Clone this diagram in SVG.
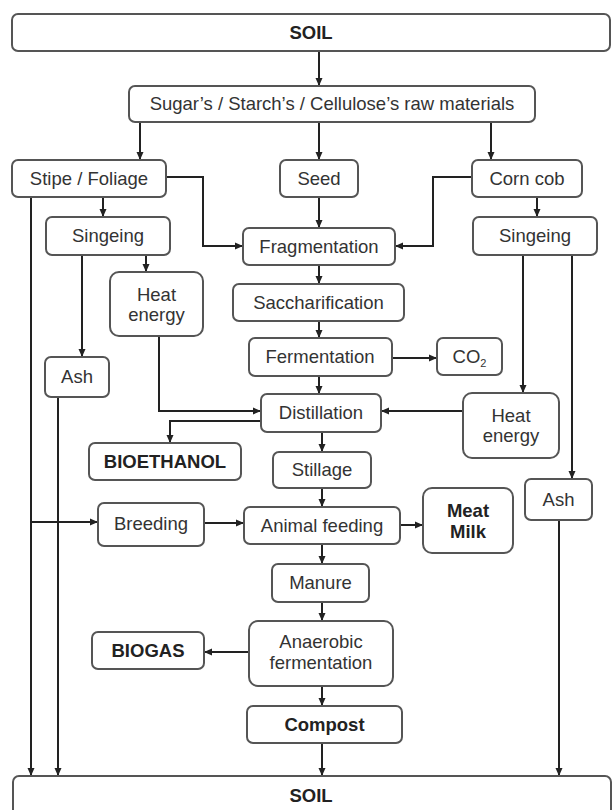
<svg xmlns="http://www.w3.org/2000/svg" width="612" height="810" viewBox="0 0 612 810">
<style>
.box{fill:#fff;stroke:#555;stroke-width:2}
.t{font-family:"Liberation Sans",Arial,sans-serif;font-size:18.5px;fill:#333;text-anchor:middle}
.b{font-weight:bold;fill:#222}
.c{fill:none;stroke:#222;stroke-width:2}
</style>
<defs>
<marker id="ah" markerUnits="userSpaceOnUse" markerWidth="9" markerHeight="8" refX="8" refY="4" orient="auto">
<path d="M0,0.5 L8,4 L0,7.5 z" fill="#222"/>
</marker>
</defs>
<rect width="612" height="810" fill="#fff"/>
<g id="connectors">
<path class="c" d="M319,51 V86" marker-end="url(#ah)"/>
<path class="c" d="M140,122 V160" marker-end="url(#ah)"/>
<path class="c" d="M319,122 V160" marker-end="url(#ah)"/>
<path class="c" d="M491,122 V160" marker-end="url(#ah)"/>
<path class="c" d="M166,177 H203 V246 H243" marker-end="url(#ah)"/>
<path class="c" d="M472,177 H433 V246 H395" marker-end="url(#ah)"/>
<path class="c" d="M319,197 V228" marker-end="url(#ah)"/>
<path class="c" d="M103,197 V217" marker-end="url(#ah)"/>
<path class="c" d="M537,197 V217" marker-end="url(#ah)"/>
<path class="c" d="M31,197 V776" marker-end="url(#ah)"/>
<path class="c" d="M82,255 V357" marker-end="url(#ah)"/>
<path class="c" d="M146,255 V272" marker-end="url(#ah)"/>
<path class="c" d="M159,336 V411 H261" marker-end="url(#ah)"/>
<path class="c" d="M58,397 V776" marker-end="url(#ah)"/>
<path class="c" d="M319,265 V284" marker-end="url(#ah)"/>
<path class="c" d="M319,321 V338" marker-end="url(#ah)"/>
<path class="c" d="M392,358 H437" marker-end="url(#ah)"/>
<path class="c" d="M319,376 V394" marker-end="url(#ah)"/>
<path class="c" d="M523,255 V393" marker-end="url(#ah)"/>
<path class="c" d="M572,255 V479" marker-end="url(#ah)"/>
<path class="c" d="M463,411 H381" marker-end="url(#ah)"/>
<path class="c" d="M261,421 H170 V443" marker-end="url(#ah)"/>
<path class="c" d="M322,432 V452" marker-end="url(#ah)"/>
<path class="c" d="M322,488 V507" marker-end="url(#ah)"/>
<path class="c" d="M559,520 V776" marker-end="url(#ah)"/>
<path class="c" d="M31,522 H98" marker-end="url(#ah)"/>
<path class="c" d="M204,523 H244" marker-end="url(#ah)"/>
<path class="c" d="M400,525 H423" marker-end="url(#ah)"/>
<path class="c" d="M322,544 V564" marker-end="url(#ah)"/>
<path class="c" d="M322,602 V621" marker-end="url(#ah)"/>
<path class="c" d="M249,652 H204" marker-end="url(#ah)"/>
<path class="c" d="M322,686 V706" marker-end="url(#ah)"/>
<path class="c" d="M322,743 V776" marker-end="url(#ah)"/>
</g>
<g id="soil-top"><rect class="box" x="12" y="14" width="598" height="37" rx="6"/><text class="t b" x="311" y="39">SOIL</text></g>
<g id="raw"><rect class="box" x="129" y="86" width="406" height="36" rx="6"/><text class="t" x="332" y="110">Sugar’s / Starch’s / Cellulose’s raw materials</text></g>
<g id="stipe"><rect class="box" x="12" y="160" width="154" height="37" rx="6"/><text class="t" x="89" y="185">Stipe / Foliage</text></g>
<g id="seed"><rect class="box" x="280" y="160" width="78" height="37" rx="6"/><text class="t" x="319" y="185">Seed</text></g>
<g id="corncob"><rect class="box" x="472" y="160" width="110" height="37" rx="6"/><text class="t" x="527" y="185">Corn cob</text></g>
<g id="singeing-left"><rect class="box" x="46" y="217" width="124" height="38" rx="6"/><text class="t" x="108" y="242">Singeing</text></g>
<g id="singeing-right"><rect class="box" x="473" y="217" width="124" height="38" rx="6"/><text class="t" x="535" y="242">Singeing</text></g>
<g id="fragmentation"><rect class="box" x="243" y="228" width="152" height="37" rx="6"/><text class="t" x="319" y="253">Fragmentation</text></g>
<g id="heat-left"><rect class="box" x="110" y="272" width="93" height="64" rx="9"/><text class="t" x="156.5" y="300.5">Heat</text><text class="t" x="156.5" y="320.5">energy</text></g>
<g id="saccharification"><rect class="box" x="233" y="284" width="171" height="37" rx="6"/><text class="t" x="318.5" y="309">Saccharification</text></g>
<g id="fermentation"><rect class="box" x="249" y="338" width="143" height="38" rx="6"/><text class="t" x="320" y="363">Fermentation</text></g>
<g id="co2"><rect class="box" x="437" y="338" width="65" height="37" rx="6"/><text class="t" x="469.5" y="363">CO<tspan font-size="11" dy="4">2</tspan></text></g>
<g id="ash-left"><rect class="box" x="45" y="357" width="64" height="40" rx="6"/><text class="t" x="77" y="383">Ash</text></g>
<g id="distillation"><rect class="box" x="261" y="394" width="120" height="38" rx="6"/><text class="t" x="321" y="419">Distillation</text></g>
<g id="heat-right"><rect class="box" x="463" y="393" width="96" height="65" rx="9"/><text class="t" x="511" y="422">Heat</text><text class="t" x="511" y="442">energy</text></g>
<g id="bioethanol"><rect class="box" x="89" y="443" width="152" height="37" rx="6"/><text class="t b" x="165" y="468">BIOETHANOL</text></g>
<g id="stillage"><rect class="box" x="273" y="452" width="98" height="36" rx="6"/><text class="t" x="322" y="476">Stillage</text></g>
<g id="ash-right"><rect class="box" x="525" y="479" width="67" height="41" rx="6"/><text class="t" x="558.5" y="506">Ash</text></g>
<g id="meat-milk"><rect class="box" x="423" y="488" width="90" height="65" rx="9"/><text class="t b" x="468" y="517">Meat</text><text class="t b" x="468" y="538">Milk</text></g>
<g id="breeding"><rect class="box" x="98" y="503" width="106" height="43" rx="6"/><text class="t" x="151" y="530">Breeding</text></g>
<g id="animal-feeding"><rect class="box" x="244" y="507" width="156" height="37" rx="6"/><text class="t" x="322" y="532">Animal feeding</text></g>
<g id="manure"><rect class="box" x="272" y="564" width="97" height="38" rx="6"/><text class="t" x="320.5" y="589">Manure</text></g>
<g id="anaerobic"><rect class="box" x="249" y="621" width="144" height="65" rx="9"/><text class="t" x="321" y="648">Anaerobic</text><text class="t" x="321" y="669">fermentation</text></g>
<g id="biogas"><rect class="box" x="92" y="632" width="112" height="37" rx="6"/><text class="t b" x="148" y="657">BIOGAS</text></g>
<g id="compost"><rect class="box" x="247" y="706" width="155" height="37" rx="6"/><text class="t b" x="324.5" y="731">Compost</text></g>
<g id="soil-bottom"><rect class="box" x="13" y="776" width="598" height="40" rx="6"/><text class="t b" x="311" y="802">SOIL</text></g>
</svg>
